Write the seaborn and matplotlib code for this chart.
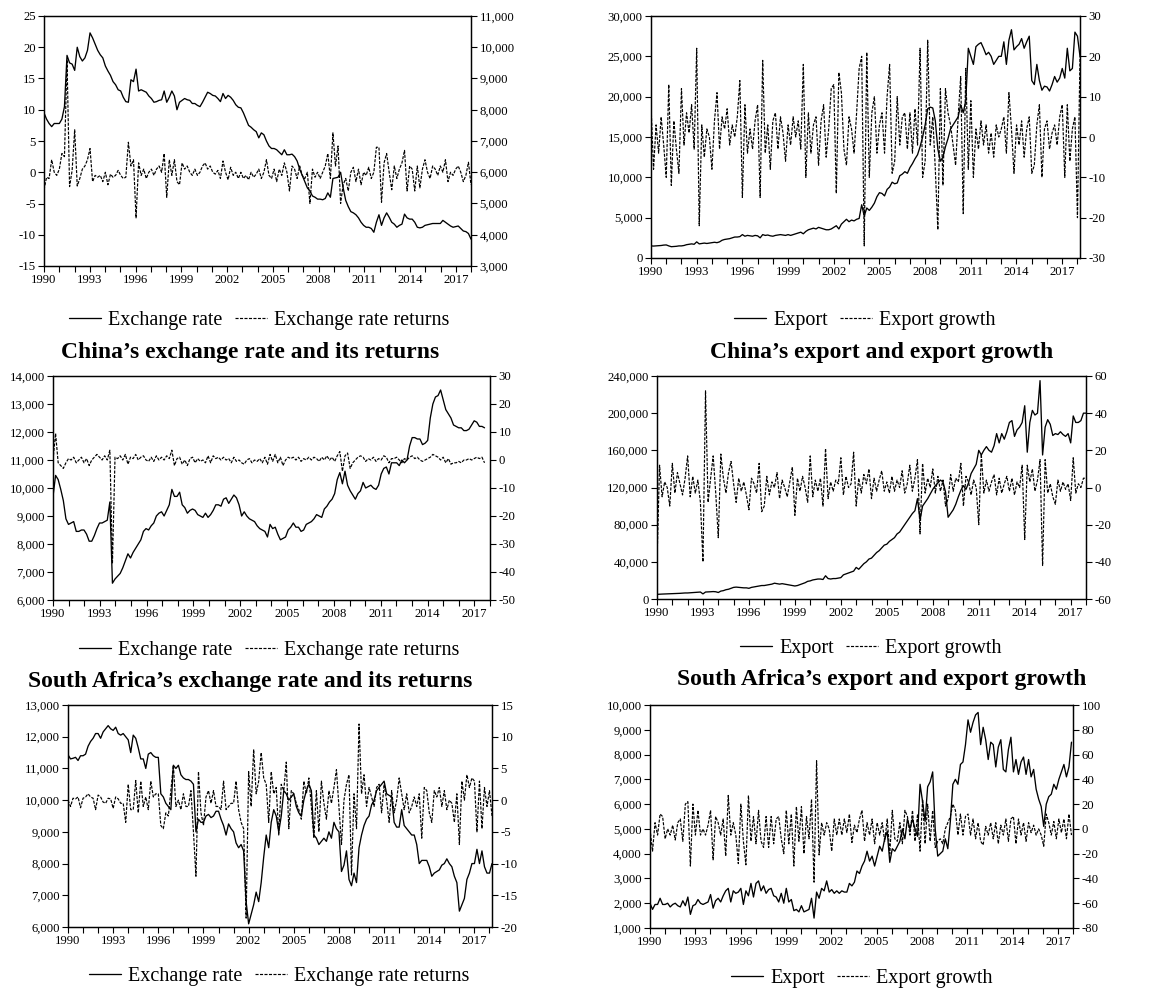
import numpy as np
import matplotlib
matplotlib.use("Agg")
import matplotlib.pyplot as plt
from matplotlib.lines import Line2D
from matplotlib.ticker import FuncFormatter, MultipleLocator
import seaborn as sns

# === Hardcoded data (two values per ~2 months, 1990 onward) ===
# panel 1: exchange rate (right axis) and its returns (left axis)
rate_1 = [7900, 7700, 7560, 7460, 7560, 7560, 7560, 7700, 8100, 9740, 9500, 9460,
          9260, 10000, 9700, 9560, 9660, 9900, 10460, 10300, 10100, 9900, 9760, 9660,
          9400, 9240, 9100, 8900, 8800, 8640, 8600, 8400, 8260, 8240, 8960, 8900,
          9300, 8600, 8640, 8600, 8560, 8440, 8360, 8240, 8260, 8300, 8320, 8600,
          8240, 8400, 8600, 8440, 8000, 8240, 8300, 8360, 8320, 8300, 8200, 8200,
          8140, 8100, 8240, 8400, 8560, 8520, 8460, 8440, 8360, 8260, 8520, 8360,
          8460, 8400, 8300, 8160, 8080, 8060, 7900, 7700, 7500, 7440, 7360, 7300,
          7100, 7260, 7200, 7000, 6840, 6760, 6760, 6720, 6640, 6560, 6720, 6560,
          6560, 6580, 6500, 6360, 6100, 5900, 5700, 5500, 5400, 5240, 5200, 5140,
          5140, 5120, 5160, 5340, 5200, 5800, 5820, 5840, 6000, 5500, 5100, 4900,
          4740, 4700, 4640, 4540, 4400, 4300, 4240, 4240, 4200, 4080, 4400, 4640,
          4300, 4540, 4700, 4560, 4400, 4340, 4240, 4300, 4340, 4660, 4540, 4500,
          4500, 4400, 4240, 4220, 4240, 4300, 4320, 4340, 4360, 4360, 4360, 4360,
          4460, 4400, 4340, 4280, 4240, 4260, 4280, 4200, 4120, 4100, 4040, 3860]
ret_1 = [-2.8, -0.8, -1, 2, 0, -0.5, 0.5, 3, 2.5, 18, -2.3, 0.3,
         6.8, -2.2, -1, 0.5, 1, 2, 3.8, -1.5, -0.5, -0.8, -0.5, -1.5,
         0, -2, -0.3, -0.8, -0.5, 0.3, -0.5, -1, -0.8, 4.8, 1, 2,
         -7.3, 1.5, -0.5, 0.5, -1, 0, 0.5, -0.5, 0.5, 1, 0, 3,
         -4, 2, -0.5, 2, -1.5, -2, 1.5, 0.5, 1, 0, -0.5, 0.5,
         -0.5, 0, 1, 1.5, 0.5, 1, 0, -0.3, 0.3, -1, 1.8, 0,
         -1.2, 0.8, -0.5, 0, -1, 0, -1, -0.5, -1.2, 0, -0.8, -0.3,
         0.5, -1, 0, 2, -0.5, -1, 0.5, -1.5, 0.5, -0.5, 1.5, 0,
         -3, 1, 0.5, -1, 1, -0.5, -1, 0, -5, 0.5, -0.8, 0,
         -1, 0, 1, 3, -1, 6.3, 1, 4.2, -5, -2, -1, -3,
         0, 0.8, -1.5, 0.5, -2, 0, -0.5, 0.8, -1, 0, 4, 4,
         -4.8, 1.5, 3, 0, -2.8, 1, -1, 0.5, 1.5, 3.5, -3, 1,
         0.5, -3, 1, -2.5, 0.5, 2, 0, -1, 1, 0.5, -0.5, 1,
         0, 2, -1.5, 0, -0.5, 0.5, 1, 0, -1.5, -0.5, 1.6, -2]

# panel 2: export and export growth
export_2 = [1500, 1480, 1500, 1520, 1550, 1600, 1620, 1500, 1400, 1420, 1450, 1500,
            1500, 1550, 1650, 1700, 1750, 1700, 2000, 1750, 1800, 1850, 1800, 1850,
            1900, 1950, 1900, 2000, 2200, 2300, 2350, 2400, 2500, 2600, 2600, 2650,
            2900, 2700, 2800, 2750, 2700, 2800, 2750, 2500, 2900, 2800, 2850, 2750,
            2700, 2800, 2850, 2900, 2850, 2800, 2900, 2800, 2900, 3000, 3100, 3200,
            3000, 3300, 3500, 3600, 3700, 3600, 3800, 3700, 3600, 3500, 3500, 3600,
            3800, 4000, 3600, 4200, 4500, 4800, 4500, 4700, 4600, 4800, 4900, 6600,
            5200, 6200, 5900, 6300, 6800, 7600, 8100, 8000, 7700, 8500, 8800, 9400,
            9200, 9300, 10200, 10400, 10700, 10500, 11200, 11700, 12300, 12800, 13800, 15000,
            16500, 18500, 18700, 18600, 17000, 13500, 12000, 12500, 13800, 14800, 16000, 16500,
            17000, 17500, 19000, 18000, 19500, 26000, 25000, 24000, 26200, 26500, 26700, 26000,
            25200, 25500, 25000, 24000, 24500, 25000, 25000, 26800, 24000, 27000, 28300, 25800,
            26200, 26500, 27200, 26000, 26800, 27500, 22000, 21500, 24000, 22000, 20800, 21300,
            21200, 20700, 21500, 22500, 21800, 22300, 23500, 22300, 26000, 23200, 23500, 28000,
            27500, 25000]
growth_2 = [8, -8, 3, -4, 5, -2, -10, 13, -12, 4, -3, -9,
            12, -2, 6, 1, 8, -3, 22, -22, 3, -5, 2, 0,
            -8, 4, 11, -3, 5, 2, 7, -2, 3, 0, 5, 14,
            -15, 8, -4, 2, -3, 4, 8, -15, 19, -4, 3, -8,
            4, 6, -3, 5, 1, -6, 3, -2, 5, 0, 4, -3,
            18, -10, 6, -4, 3, 5, -7, 4, 8, -5, 2, 12,
            13, -14, 16, 11, -3, -7, 5, 2, -4, 6, 17, 20,
            -27, 21, -10, 6, 10, -4, 3, 6, -4, 10, 18, -9,
            -6, 10, -2, 5, 6, -3, 6, -4, 7, -2, 22, -10,
            -6, 24, -2, 5, -8, -23, 12, -12, 12, 6, 3, -2,
            -7, 5, 15, -19, 17, -8, 9, -10, 2, -3, 4, -2,
            3, -4, 1, -5, 3, 0, 2, 5, -4, 11, 2, -9,
            3, -2, 4, -5, 2, 5, -9, -7, 3, 8, -10, 2,
            4, -3, 1, 3, -2, 5, 8, -10, 8, -6, 2, 5,
            -20, 20]

# panel 3: China's exchange rate and its returns
rate_3 = [9700, 10450, 10300, 9950, 9550, 8900, 8700, 8750, 8800, 8450, 8450, 8500,
          8500, 8350, 8100, 8100, 8300, 8550, 8750, 8750, 8800, 8850, 9500, 6600,
          6750, 6850, 6950, 7150, 7400, 7650, 7500, 7700, 7850, 8000, 8150, 8450,
          8550, 8500, 8650, 8750, 9000, 9100, 9150, 9000, 9200, 9400, 9950, 9700,
          9700, 9850, 9400, 9300, 9100, 9200, 9250, 9200, 9050, 9000, 8950, 9100,
          8950, 9050, 9200, 9400, 9400, 9350, 9600, 9650, 9450, 9600, 9750, 9650,
          9400, 9000, 9150, 9000, 8900, 8850, 8800, 8650, 8550, 8500, 8450, 8250,
          8700, 8550, 8600, 8350, 8150, 8200, 8250, 8500, 8600, 8750, 8600, 8600,
          8450, 8500, 8700, 8750, 8800, 8900, 9050, 9000, 8950, 9250, 9350, 9500,
          9600, 9800, 10300, 10550, 10150, 10600, 10100, 9900, 9750, 9600, 9800, 9900,
          10200, 10000, 10050, 10100, 10000, 9950, 10100, 10500, 10700, 10750, 10500, 10900,
          10900, 10900, 10800, 11000, 10900, 11000, 11500, 11800, 11800, 11750, 11750, 11550,
          11600, 11700, 12500, 13000, 13250, 13300, 13500, 13150, 12800, 12650, 12500, 12250,
          12200, 12150, 12150, 12050, 12050, 12100, 12250, 12400, 12350, 12200, 12200, 12150]
ret_3 = [0, 9.5, -1, -2, -3, -1, 0.5, 0, 1, -1, 0, 1,
         -1, 0.5, -2, 0, 1, 2, 1, 0, 1.5, 0, 3.5, -37,
         1, 0.5, 1.5, 0, 2, -1.5, 1, 0.5, 2, 0, 1, 1.5,
         0, -0.5, 1, -0.5, 1.5, 0, 1, 0, 1.5, 0.5, 3.5, -2,
         0.5, 1, -1.5, 0, -2, 0.5, 1, -1, 0.5, -0.5, 0, -1,
         1.5, -1, 1.5, 0.5, 1, 0, 1, 0, 0.5, -1, 1, -0.5,
         0, -1, -1.5, 0, 0.5, -1, 0, -0.5, 0.5, -1, 1, -1.5,
         2, -0.5, 2, -1, 1, -2, 0, 1, 0.5, 1, 0, 1,
         -0.5, 0.5, 0, 1, 0, 1, 0.5, -0.5, 1, 0, 1.5, 0,
         1, -0.5, 1.5, 3, -4, 1.5, 2.5, -3, -1, 0, 1, 1.5,
         1, -0.5, 0.5, 0, 1, -0.5, 0.5, 0, 1.5, 1, -1, 0.5,
         0.5, 1, 0, -1, 0.5, 0, 1, 1.5, 0.5, 1, 0, -0.5,
         0, 0.5, 1, 2, 1.5, 1, 0, 1, -1, 0.5, -1.5, -1,
         -1, -0.5, -1, 0, 0, 0.5, 0, 0.5, 1, 0.5, 1, -1]

# panel 4: China's export and export growth
export_4 = [5000, 5200, 5300, 5400, 5500, 5600, 5600, 5800, 6000, 6100, 6300, 6500,
            6500, 6700, 6900, 7000, 7200, 7500, 5500, 7500, 7600, 7800, 8000, 7800,
            7000, 8500, 9000, 10000, 10500, 11500, 12500, 12800, 12500, 12300, 12000, 12000,
            11500, 12500, 13000, 13500, 14000, 14500, 14500, 15000, 15500, 16000, 17000, 16500,
            16000, 16500, 16000, 15500, 15000, 14500, 14000, 14500, 15500, 16500, 17500, 19000,
            19500, 20500, 21000, 21500, 21500, 21000, 25000, 22000, 21500, 22000, 22000, 22500,
            23000, 26000, 27000, 28000, 29000, 30000, 34000, 32000, 35000, 38000, 40000, 43000,
            44000, 47000, 50000, 52000, 55000, 58000, 59000, 62000, 64000, 66000, 70000, 72000,
            76000, 80000, 84000, 88000, 92000, 95000, 108000, 85000, 100000, 104000, 108000, 113000,
            118000, 122000, 125000, 128000, 126000, 115000, 88000, 92000, 96000, 102000, 110000, 117000,
            122000, 118000, 125000, 135000, 140000, 145000, 160000, 155000, 160000, 164000, 160000, 158000,
            165000, 178000, 168000, 178000, 172000, 180000, 190000, 192000, 175000, 182000, 185000, 190000,
            208000, 158000, 190000, 203000, 198000, 200000, 235000, 155000, 185000, 193000, 188000, 176000,
            178000, 177000, 180000, 177000, 175000, 178000, 168000, 197000, 190000, 190000, 192000, 200000,
            200000]
growth_4 = [-40, 12, -5, 3, 0, -10, 13, -3, 8, 2, -4, 5,
            17, -5, 6, -3, 4, -8, -40, 52, -8, 5, 17, -3,
            -27, 18, 5, -3, 8, 14, 2, -8, 5, -2, 3, -4,
            -12, 5, 2, -3, 13, -13, -10, 6, -4, 3, 0, 8,
            -6, 4, 0, -5, 3, 11, -15, 5, -2, 6, 0, -8,
            17, -5, 4, -2, 5, -10, 21, -6, 3, -2, 4, 2,
            16, -4, 6, 0, 2, 19, -10, 5, -3, 7, 2, 10,
            -6, 5, -2, 4, 9, -2, 3, -3, 6, -2, 4, 0,
            9, -3, 2, 12, -2, 5, 15, -25, 13, -3, 5, 0,
            10, -3, 6, -2, 4, -10, -6, 7, -2, 5, 3, 13,
            -10, 6, 3, -4, 4, 0, -20, 18, -3, 4, -2, 3,
            7, -4, 5, -3, 2, 6, -2, 5, -4, 3, 0, 12,
            -28, 12, 3, 10, -2, 4, 15, -42, 15, -3, 2, -5,
            -9, 4, -2, 3, -1, 2, -7, 16, -3, 2, 0, 5,
            5]

# panel 5: South Africa's exchange rate and its returns
rate_5 = [11430, 11300, 11320, 11350, 11250, 11400, 11400, 11450, 11700, 11850, 11950, 12100,
          12100, 11950, 12150, 12250, 12350, 12250, 12200, 12300, 12100, 12050, 12100, 12000,
          11900, 11500, 12050, 11950, 11650, 11300, 11300, 11000, 11450, 11500, 11400, 11350,
          11350, 10200, 10100, 9900, 9800, 9700, 11100, 11000, 11100, 10800, 10700, 10650,
          10650, 10600, 10500, 9000, 9400, 9300, 9300, 9500, 9550, 9450, 9500, 9650,
          9650, 9400, 9200, 8900, 9250, 9100, 9000, 8650, 8500, 8600, 8400, 6800,
          6100, 6400, 6700, 7100, 6800, 7400, 8200, 8900, 8500, 9300, 9700, 9500,
          9000, 9500, 10300, 10200, 10000, 10100, 10200, 9800, 9600, 9500, 10000, 10300,
          10500, 10300, 8900, 8800, 8600, 8700, 8800, 8700, 9000, 8800, 9300, 9100,
          9000, 7750, 7950, 8400, 7500, 7300, 7700, 7400, 8500, 8900, 9200, 9400,
          9500, 9850, 10000, 10300, 10400, 10500, 10600, 10200, 10150, 10100, 9300, 9150,
          9150, 9700, 9200, 9100, 9000, 8900, 8900, 8600, 8000, 8100, 8100, 8100,
          7900, 7600, 7700, 7750, 7800, 7950, 8000, 8150, 8000, 7900, 7600, 7400,
          6500, 6700, 6900, 7500, 7700, 8000, 8000, 8450, 8000, 8400, 7900, 7700,
          7700, 8000]
ret_5 = [0, -1, 0.3, 0.2, 0.5, -1.2, 0.3, 0.5, 1, 0.5, 0.3, -1.5,
         0.8, 0.5, -0.3, -0.5, 0.3, 0.2, -1.3, 0.5, 0.2, -0.5, -0.5, -3.5,
         2.5, -1.5, -1.5, 3.1, -2, 3, -1, 0.5, -1.5, 3, 0.5, 1,
         1, -4, -4.5, -2, -2.5, 1.5, 5.5, -1, 0, -1.5, 1, -1,
         -1, 1.5, -5, -12, 4.5, -2, -4, 0.5, 1.5, -0.5, 1.5, -1,
         -1, -1.5, 3, -1.5, -1, -0.5, -0.5, 3, -1.5, -3.5, -4.5, -18.6,
         4.5, -1, 8, 1, 3, 7.5, 3.5, 2.5, -3.5, 4.5, 1, 2,
         -5.5, 2.5, 1.5, 6, -4.5, 1.5, 1, -0.5, -1.5, -3, 3, 1,
         3.5, -1, -6, 1.5, -5, 3, -0.5, -3, 1.5, -0.5, 2, 4.8,
         -1, -7, 0, 2.5, 4, -11.8, 1, -4.5, 12, 1, 4, -1,
         2, 0.5, -1, 2, 2.5, -2, 2.5, 0, -3.5, 1.5, -2, 0,
         3.5, 1, -1.5, 1, -2, -1, 0.5, -1, 1, -6, 2, 1.5,
         -2, -3.5, 1.5, 0.5, 2, -1, 1.5, -1.5, 0, -0.5, -3.5, 1,
         -7, 3, 0, 4, 2, 3.5, 3, -5, 3, -4.5, 2, -1,
         1.5, -2.5]

# panel 6: South Africa's export and export growth
export_6 = [2000, 1750, 1950, 1950, 2200, 1950, 1950, 2000, 1850, 1950, 2000, 1900,
            1850, 2100, 1900, 2250, 1550, 1900, 1950, 2150, 2000, 1950, 2000, 2050,
            2350, 1800, 2100, 2200, 2050, 2300, 2500, 2600, 2050, 2500, 2400, 2450,
            2600, 1950, 2500, 2300, 2800, 2250, 2800, 2900, 2500, 2700, 2400, 2550,
            2600, 2300, 2250, 2050, 2400, 2000, 2600, 2050, 2150, 1700, 1750, 1650,
            1900, 1650, 1700, 1750, 2200, 1400, 2450, 2200, 2600, 2500, 2900, 2450,
            2550, 2400, 2500, 2400, 2500, 2450, 2450, 2800, 2700, 2850, 3300, 3200,
            3500, 3700, 4100, 3700, 3900, 3500, 3900, 4300, 4100, 4600, 4900, 3650,
            4200, 4100, 4300, 4500, 5000, 4600, 5400, 5000, 5400, 5000, 4700, 6800,
            6100, 5300, 6700, 6900, 7300, 5000, 3900, 4000, 4100, 4600, 4200, 5300,
            6800, 7000, 6800, 7600, 7700, 8400, 9400, 8900, 9300, 9600, 9700, 8400,
            9100, 8600, 7800, 8500, 8400, 7500, 8300, 8600, 7400, 7300, 8200, 8700,
            7300, 7800, 7200, 7700, 7900, 7200, 7800, 7100, 7400, 6600, 6200, 5900,
            5100, 6000, 6300, 6400, 6800, 6600, 7000, 7300, 7600, 7100, 7500, 8500]
growth_6 = [0, -18, 5, -5, 12, 10, -8, 0, -5, 3, -9, 5,
            8, -10, 20, 22, -30, 20, -5, 15, -5, 0, -5, 3,
            15, -25, 10, 5, -5, 8, -22, 27, -5, 5, -5, -28,
            20, -10, -29, 27, -10, 10, -12, 15, -10, -15, 10, -15,
            10, -12, 8, 10, -8, -20, 15, -12, 12, -30, 18, -10,
            18, -20, 10, -8, 24, -43, 55, -21, 5, -5, 5, 0,
            -18, 8, -5, 8, -5, 8, -3, 12, -11, 3, -3, 8,
            15, -10, 5, -5, 8, -12, 5, -5, 5, -10, 8, -20,
            15, -8, -10, 5, -12, 15, 10, -5, 15, -10, 12, -18,
            24, -12, 20, -10, 15, -15, -10, -8, -12, 0, 5, 10,
            20, 15, -5, 12, -5, 10, 12, -5, 8, -8, 5, -10,
            -13, 2, -5, 5, -8, 5, -12, 3, -5, 8, -10, 8,
            10, -12, 8, -5, 5, -10, 5, -3, 3, -5, 0, -5,
            -14, 12, 5, -5, 6, -8, 8, -3, 8, -8, 12, -5]

rate_names = ["Exchange rate", "Exchange rate returns"]
export_names = ["Export", "Export growth"]

# === Style ===
sns.set_style("ticks")
plt.rcParams["font.family"] = ["Liberation Serif", "DejaVu Serif"]
plt.rcParams.update({
    "axes.edgecolor": "black", "axes.linewidth": 0.9,
    "xtick.color": "black", "ytick.color": "black",
    "text.color": "black", "axes.labelcolor": "black",
})
DASH = (0, (2.6, 1.2))
SOLID_LW, DASH_LW = 0.95, 0.85

W, H = 1172, 990
fig = plt.figure(figsize=(W / 100, H / 100), dpi=100)


def box(l, t, r, b):
    return [l / W, 1 - b / H, (r - l) / W, (b - t) / H]


comma = FuncFormatter(lambda v, p: f"{v:,.0f}")


def panel(rect, x_end, level, change, names, lev_lim, lev_step, chg_lim, chg_step,
          legend_at, title=None, title_at=None, level_right=False):
    ax = fig.add_axes(rect)
    ax2 = ax.twinx()
    lev_ax, chg_ax = (ax2, ax) if level_right else (ax, ax2)

    xl = np.linspace(1990, x_end, len(level))
    xc = np.linspace(1990, x_end, len(change))
    sns.lineplot(x=xl, y=level, ax=lev_ax, color="black", lw=SOLID_LW,
                 estimator=None, sort=False)
    sns.lineplot(x=xc, y=change, ax=chg_ax, color="black", lw=DASH_LW, ls=DASH,
                 estimator=None, sort=False)

    lev_ax.set_ylim(*lev_lim)
    lev_ax.yaxis.set_major_locator(MultipleLocator(lev_step))
    chg_ax.set_ylim(*chg_lim)
    chg_ax.yaxis.set_major_locator(MultipleLocator(chg_step))
    for a in (ax, ax2):
        a.yaxis.set_major_formatter(comma)
        a.set_ylabel("")
        a.set_xlabel("")
        a.tick_params(axis="y", direction="out", length=4, width=0.8, labelsize=9.2, pad=2)

    ax.set_xlim(1990, x_end)
    ax.set_xticks(np.arange(1990, 2018, 3))
    ax.set_xticks(np.arange(1990, 2019), minor=True)
    ax.xaxis.set_major_formatter(FuncFormatter(lambda v, p: f"{int(round(v))}"))
    ax.tick_params(axis="x", which="both", direction="out", length=4, width=0.8,
                   labelsize=9.2, pad=2)

    handles = [Line2D([], [], color="black", lw=SOLID_LW),
               Line2D([], [], color="black", lw=DASH_LW, ls=DASH)]
    fig.legend(handles, names, loc="center",
               bbox_to_anchor=(legend_at[0] / W, 1 - legend_at[1] / H),
               ncol=2, frameon=False, fontsize=14.5, handlelength=1.6,
               handletextpad=0.35, columnspacing=0.6)
    if title:
        fig.text(title_at[0] / W, 1 - title_at[1] / H, title, ha="center", va="center",
                 fontsize=17, fontweight="bold")


panel(box(44, 16, 471, 266), 2018.0, rate_1, ret_1, rate_names,
      (3000, 11000), 1000, (-15, 25), 5, (259, 320), level_right=True)
panel(box(651, 16, 1080, 258), 2018.17, export_2, growth_2, export_names,
      (0, 30000), 5000, (-30, 30), 10, (865, 320))
panel(box(53, 376, 490, 600), 2017.65, rate_3, ret_3, rate_names,
      (6000, 14000), 1000, (-50, 30), 10, (269, 650),
      "China\u2019s exchange rate and its returns", (250, 352))
panel(box(657, 376, 1086, 599), 2018.0, export_4, growth_4, export_names,
      (0, 240000), 40000, (-60, 60), 20, (871, 648),
      "China\u2019s export and export growth", (882, 352))
panel(box(68, 705, 492, 927), 2018.17, rate_5, ret_5, rate_names,
      (6000, 13000), 1000, (-20, 15), 5, (279, 976),
      "South Africa\u2019s exchange rate and its returns", (250, 681))
panel(box(650, 705, 1073, 928), 2017.9, export_6, growth_6, export_names,
      (1000, 10000), 1000, (-80, 100), 20, (862, 978),
      "South Africa\u2019s export and export growth", (882, 679))

fig.savefig("out.png", dpi=100)
